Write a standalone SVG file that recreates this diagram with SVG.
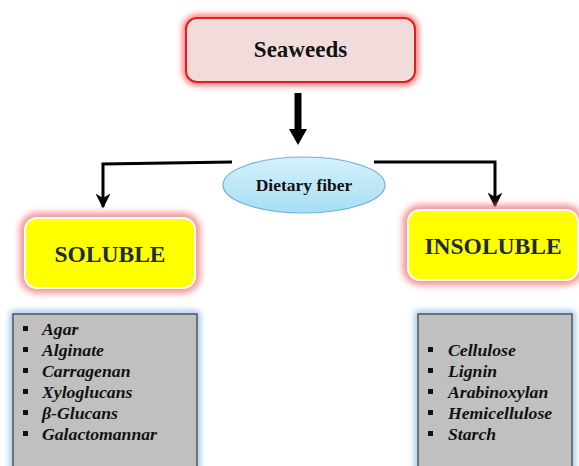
<svg xmlns="http://www.w3.org/2000/svg" width="579" height="466" viewBox="0 0 579 466">
<defs>
<filter id="glow" x="-20%" y="-30%" width="140%" height="160%"><feGaussianBlur stdDeviation="3"/></filter>
<linearGradient id="ell" x1="0" y1="0" x2="0" y2="1"><stop offset="0" stop-color="#d6f1fb"/><stop offset="1" stop-color="#a6def4"/></linearGradient>
<marker id="ah" viewBox="0 0 10 10" refX="9" refY="5" markerWidth="5" markerHeight="5" orient="auto"><path d="M0,0 L10,5 L0,10 L3,5 Z" fill="#000"/></marker>
</defs>
<style>
.t{font-family:"Liberation Serif","Times New Roman",serif;font-weight:bold;}
.it{font-family:"Liberation Serif","Times New Roman",serif;font-weight:bold;font-style:italic;font-size:17.7px;fill:#111;}
.cat{font-size:23.5px;fill:#1c2a45;}
.bul{fill:#111;}
.conn{fill:none;stroke:#000;stroke-width:3;}
</style>
<rect width="579" height="466" fill="#fff"/>
<g id="seaweeds">
<rect x="186" y="18" width="229" height="64" rx="11" fill="none" stroke="#ff5a5a" stroke-width="6" filter="url(#glow)"/>
<rect x="186" y="18" width="229" height="64" rx="11" fill="#f2dcdb" stroke="#e41e1e" stroke-width="2"/>
<text class="t" x="300.5" y="57" font-size="23" text-anchor="middle" fill="#111">Seaweeds</text>
</g>
<g id="connectors">
<path d="M298,93 L298,131" stroke="#000" stroke-width="7" fill="none"/>
<path d="M289,129 L307,129 L298,145 Z" fill="#000"/>
<path class="conn" d="M232,162 L103,164 L103,207" marker-end="url(#ah)"/>
<path class="conn" d="M374,162 L495,162 L495,206" marker-end="url(#ah)"/>
</g>
<g id="dietary-fiber">
<ellipse cx="304" cy="185" rx="81" ry="28" fill="url(#ell)" stroke="#6bb3d6" stroke-width="1.2"/>
<text class="t" x="304" y="191" font-size="17.5" text-anchor="middle" fill="#111">Dietary fiber</text>
</g>
<g id="soluble">
<rect x="25" y="218" width="170" height="70" rx="12" fill="none" stroke="#f27c7c" stroke-width="11" filter="url(#glow)" opacity="0.8"/>
<rect x="25" y="218" width="170" height="70" rx="12" fill="#ffff00" stroke="#ffffff" stroke-width="2"/>
<text class="t cat" x="110" y="262" text-anchor="middle">SOLUBLE</text>
</g>
<g id="insoluble">
<rect x="408" y="210" width="170" height="70" rx="12" fill="none" stroke="#f27c7c" stroke-width="11" filter="url(#glow)" opacity="0.8"/>
<rect x="408" y="210" width="170" height="70" rx="12" fill="#ffff00" stroke="#ffffff" stroke-width="2"/>
<text class="t cat" x="493" y="254" text-anchor="middle">INSOLUBLE</text>
</g>
<g id="soluble-list">
<rect x="13" y="314" width="184" height="160" fill="none" stroke="#7fb3ea" stroke-width="5" filter="url(#glow)"/>
<rect x="13" y="314" width="184" height="160" fill="#c0c0c0" stroke="#3a3a3a" stroke-width="1.2"/>
<g class="bul"><rect x="23" y="326" width="5" height="5"/><rect x="23" y="347" width="5" height="5"/><rect x="23" y="368" width="5" height="5"/><rect x="23" y="389" width="5" height="5"/><rect x="23" y="410" width="5" height="5"/><rect x="23" y="431" width="5" height="5"/></g>
<text class="it" x="42" y="335">Agar</text>
<text class="it" x="42" y="356">Alginate</text>
<text class="it" x="42" y="377">Carragenan</text>
<text class="it" x="42" y="398">Xyloglucans</text>
<text class="it" x="42" y="419">β-Glucans</text>
<text class="it" x="42" y="440">Galactomannar</text>
</g>
<g id="insoluble-list">
<rect x="418" y="314" width="154" height="160" fill="none" stroke="#7fb3ea" stroke-width="5" filter="url(#glow)"/>
<rect x="418" y="314" width="154" height="160" fill="#c0c0c0" stroke="#3a3a3a" stroke-width="1.2"/>
<g class="bul"><rect x="428" y="347" width="5" height="5"/><rect x="428" y="368" width="5" height="5"/><rect x="428" y="389" width="5" height="5"/><rect x="428" y="410" width="5" height="5"/><rect x="428" y="431" width="5" height="5"/></g>
<text class="it" x="448" y="356">Cellulose</text>
<text class="it" x="448" y="377">Lignin</text>
<text class="it" x="448" y="398">Arabinoxylan</text>
<text class="it" x="448" y="419">Hemicellulose</text>
<text class="it" x="448" y="440">Starch</text>
</g>
</svg>
